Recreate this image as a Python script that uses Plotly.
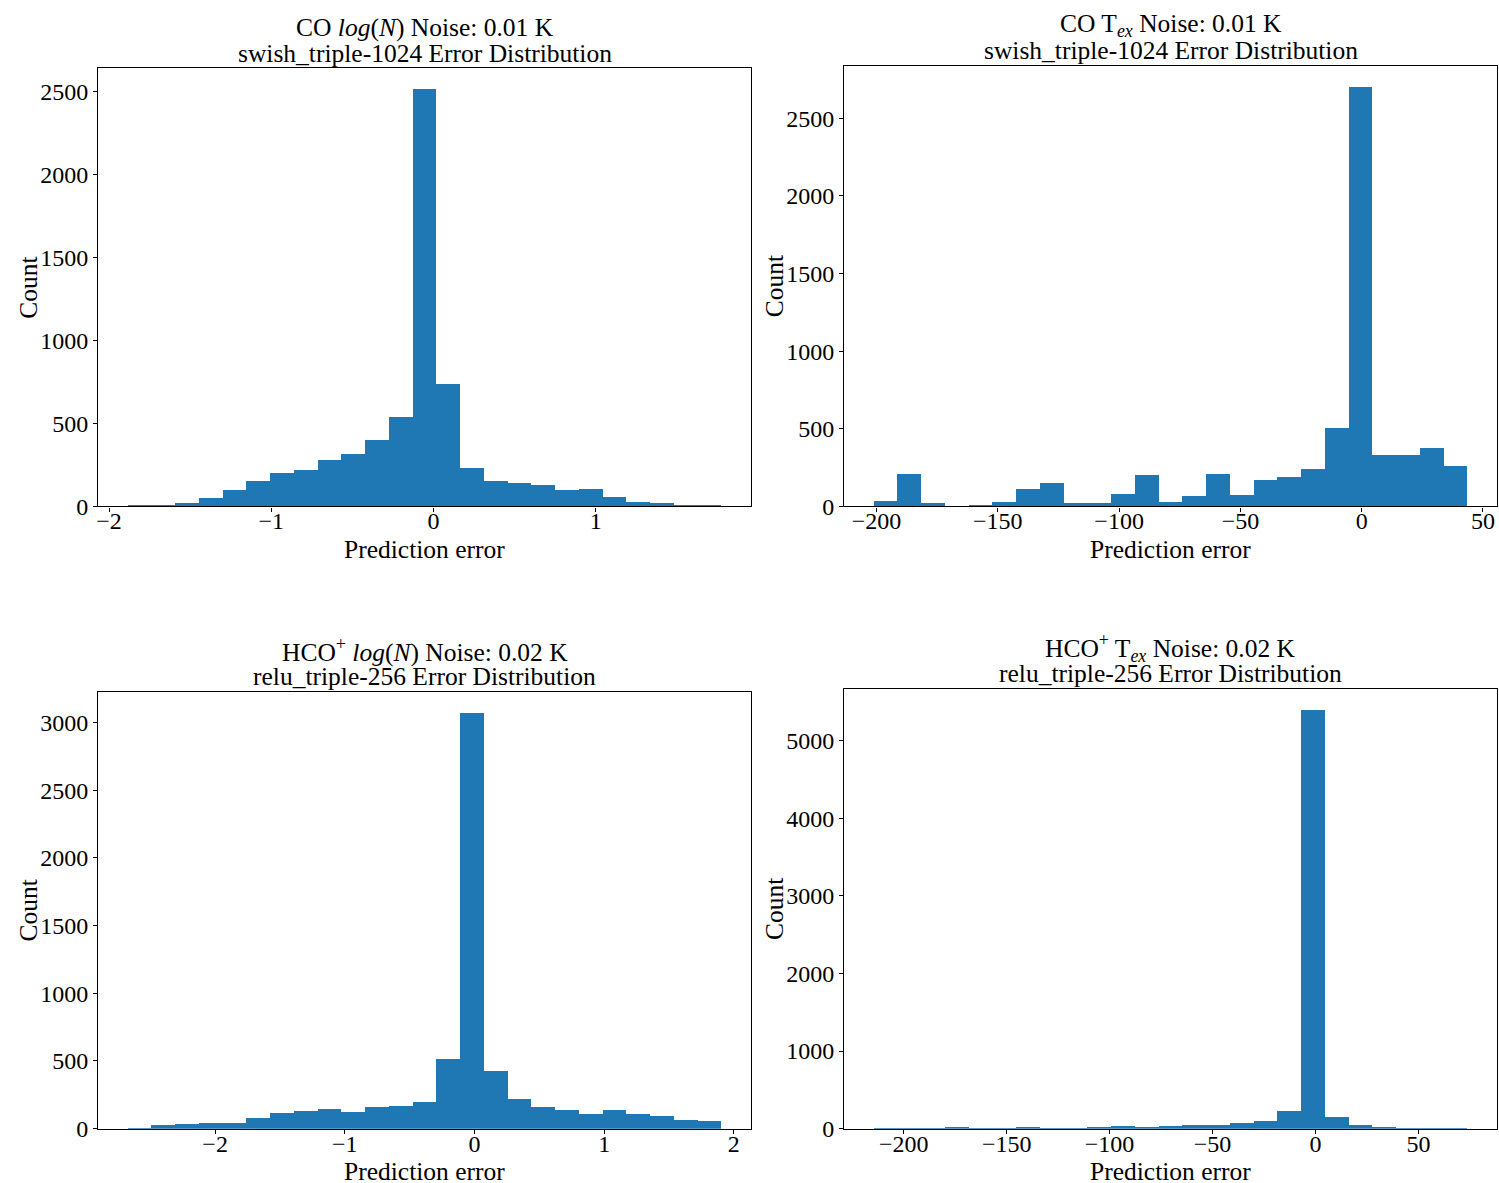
import numpy as np
import plotly.graph_objects as go

# Histogram counts (25 bins each) and the outer bin edges of every panel
co_logn_counts = [4, 5, 18, 50, 98, 151, 199, 219, 277, 313, 398, 536, 2512,
                  735, 229, 153, 139, 127, 97, 103, 55, 25, 18, 3, 3]
co_logn_range = [-1.884, 1.776]

co_tex_counts = [37, 211, 22, 2, 12, 31, 115, 153, 22, 22, 83, 205, 31,
                 70, 211, 76, 173, 192, 244, 508, 2702, 334, 334, 379, 263]
co_tex_range = [-201.1, 43.66]

hco_logn_counts = [5, 25, 35, 43, 43, 80, 117, 132, 146, 122, 161, 168, 198,
                   516, 3072, 427, 220, 161, 137, 110, 137, 110, 95, 63, 55]
hco_logn_range = [-2.673, 1.906]

hco_tex_counts = [9, 9, 6, 26, 9, 9, 26, 9, 9, 26, 39, 26, 39,
                  52, 52, 77, 103, 232, 5395, 155, 52, 13, 4, 4, 4]
hco_tex_range = [-214.5, 73.9]

titles_line1 = [
    "CO <i>log</i>(<i>N</i>) Noise: 0.01 K",
    "CO T<sub><i>ex</i></sub> Noise: 0.01 K",
    "HCO<sup>+</sup> <i>log</i>(<i>N</i>) Noise: 0.02 K",
    "HCO<sup>+</sup> T<sub><i>ex</i></sub> Noise: 0.02 K",
]
titles_line2 = [
    "swish_triple-1024 Error Distribution",
    "swish_triple-1024 Error Distribution",
    "relu_triple-256 Error Distribution",
    "relu_triple-256 Error Distribution",
]
x_label = "Prediction error"
y_label = "Count"

W, H = 1499, 1197
REF_H = 1183  # layout grid below is laid out on a 1183 px tall sheet
FONT = "Liberation Serif, DejaVu Serif, serif"
FS = 24
FS_TITLE = 25.5
BAR_COLOR = "#1f77b4"

# axes boxes in pixels: left, right, top, bottom
boxes = [
    (96.3, 750.3, 68.3, 506.0),
    (843.3, 1497.3, 65.7, 506.0),
    (96.3, 750.3, 691.3, 1127.7),
    (843.3, 1497.3, 688.3, 1127.7),
]
ydticks = [500, 500, 500, 1000]
xdticks = [1, 50, 1, 50]

panels = [
    (co_logn_counts, co_logn_range),
    (co_tex_counts, co_tex_range),
    (hco_logn_counts, hco_logn_range),
    (hco_tex_counts, hco_tex_range),
]

fig = go.Figure()
annotations = []
layout = {}


def px_x(x):
    return x / W


def px_y(y):
    return 1 - y / REF_H


for i, ((counts, (lo, hi)), box) in enumerate(zip(panels, boxes)):
    n = len(counts)
    edges = np.linspace(lo, hi, n + 1)
    centers = (edges[:-1] + edges[1:]) / 2
    width = edges[1] - edges[0]
    sfx = "" if i == 0 else str(i + 1)
    fig.add_trace(go.Bar(
        x=centers, y=counts, width=width,
        marker=dict(color=BAR_COLOR, line=dict(width=0)),
        xaxis="x" + sfx, yaxis="y" + sfx, showlegend=False,
    ))
    l, r, t, b = box
    pad = 0.05 * (hi - lo)
    axis_common = dict(
        showline=True, linecolor="black", linewidth=1.2, mirror=True,
        ticks="outside", ticklen=4, tickwidth=1.2, tickcolor="black",
        showgrid=False, zeroline=False,
        tickfont=dict(family=FONT, size=FS, color="black"),
    )
    layout["xaxis" + sfx] = dict(
        axis_common, domain=[px_x(l), px_x(r)], anchor="y" + sfx,
        range=[lo - pad, hi + pad], dtick=xdticks[i], tick0=0,
        ticklabelstandoff=-11,
    )
    layout["yaxis" + sfx] = dict(
        axis_common, domain=[px_y(b), px_y(t)], anchor="x" + sfx,
        range=[0, 1.05 * max(counts)], dtick=ydticks[i], tick0=0,
    )
    cx = (l + r) / 2
    # two-line title above each panel
    annotations.append(dict(
        text=titles_line1[i], x=px_x(cx), y=px_y(t - 41), xref="paper", yref="paper",
        xanchor="center", yanchor="middle", showarrow=False,
        font=dict(family=FONT, size=FS_TITLE, color="black"),
    ))
    annotations.append(dict(
        text=titles_line2[i], x=px_x(cx), y=px_y(t - 15), xref="paper", yref="paper",
        xanchor="center", yanchor="middle", showarrow=False,
        font=dict(family=FONT, size=FS_TITLE, color="black"),
    ))
    # axis titles
    annotations.append(dict(
        text=x_label, x=px_x(cx), y=px_y(b + 43), xref="paper", yref="paper",
        xanchor="center", yanchor="middle", showarrow=False,
        font=dict(family=FONT, size=FS_TITLE, color="black"),
    ))
    annotations.append(dict(
        text=y_label, x=px_x(l - 70), y=px_y((t + b) / 2), xref="paper", yref="paper",
        xanchor="center", yanchor="middle", showarrow=False, textangle=-90,
        font=dict(family=FONT, size=FS_TITLE, color="black"),
    ))

fig.update_layout(
    width=W, height=H,
    margin=dict(l=0, r=0, t=0, b=0),
    paper_bgcolor="white", plot_bgcolor="white",
    bargap=0, annotations=annotations,
    **layout,
)

fig.write_html("out.html")
